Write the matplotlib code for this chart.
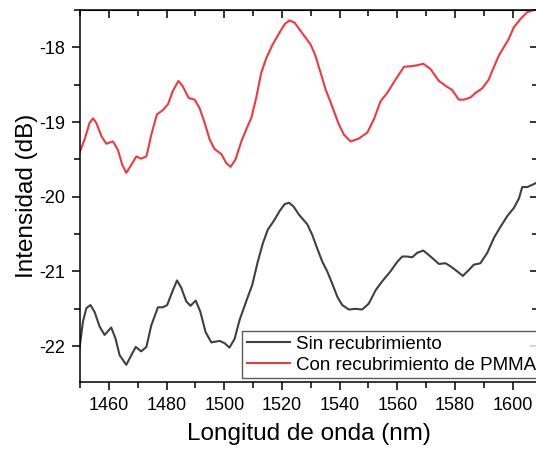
import numpy as np
from matplotlib import pyplot as plt
from matplotlib.ticker import MultipleLocator

plt.rcParams['font.family'] = ['Liberation Sans', 'DejaVu Sans']
plt.rcParams['axes.unicode_minus'] = False

# Con recubrimiento de PMMA (red)
wl_pmma = [1449.8, 1451.6, 1453.3, 1454.5, 1455.6, 1457.4, 1459.1, 1461.4, 1463.1, 1464.6,
           1466.0, 1467.8, 1469.5, 1471.2, 1473.0, 1474.7, 1476.6, 1478.7, 1480.5, 1482.2,
           1484.1, 1485.6, 1487.7, 1489.7, 1491.4, 1493.2, 1494.9, 1496.6, 1499.0, 1500.7,
           1502.2, 1503.9, 1505.9, 1507.6, 1509.4, 1511.1, 1512.8, 1514.6, 1516.8, 1519.2,
           1520.9, 1522.6, 1524.4, 1526.1, 1527.8, 1529.9, 1531.6, 1533.4, 1535.1, 1537.4,
           1539.7, 1541.5, 1543.8, 1546.7, 1549.6, 1551.9, 1554.2, 1556.5, 1559.4, 1562.3,
           1565.2, 1566.9, 1569.0, 1571.5, 1574.4, 1577.3, 1579.0, 1581.3, 1583.1, 1585.4,
           1587.1, 1589.4, 1591.7, 1593.4, 1595.2, 1597.2, 1598.6, 1600.4, 1602.7, 1605.0,
           1607.3, 1609.0]
int_pmma = [-19.41, -19.23, -19.01, -18.95, -19.01, -19.19, -19.29, -19.26, -19.37, -19.57,
            -19.68, -19.57, -19.46, -19.49, -19.46, -19.17, -18.90, -18.84, -18.76, -18.58,
            -18.45, -18.52, -18.68, -18.70, -18.81, -19.01, -19.23, -19.36, -19.43, -19.55,
            -19.60, -19.50, -19.26, -19.10, -18.94, -18.67, -18.34, -18.14, -17.96, -17.80,
            -17.69, -17.64, -17.67, -17.76, -17.85, -17.96, -18.11, -18.34, -18.56, -18.79,
            -19.03, -19.17, -19.26, -19.22, -19.14, -18.96, -18.72, -18.61, -18.43, -18.26,
            -18.25, -18.24, -18.22, -18.29, -18.45, -18.53, -18.57, -18.70, -18.70, -18.67,
            -18.61, -18.55, -18.43, -18.27, -18.11, -17.98, -17.89, -17.73, -17.62, -17.53,
            -17.50, -17.48]

# Sin recubrimiento (black)
wl_sin = [1449.8, 1451.0, 1452.2, 1453.6, 1455.0, 1456.8, 1458.5, 1460.8, 1462.3, 1463.7,
          1466.0, 1467.8, 1469.3, 1471.2, 1473.0, 1474.7, 1477.0, 1478.7, 1480.2, 1482.0,
          1483.6, 1485.1, 1486.8, 1488.3, 1490.1, 1491.7, 1493.5, 1495.5, 1498.4, 1500.1,
          1501.8, 1503.6, 1505.3, 1507.6, 1509.7, 1511.6, 1513.4, 1515.1, 1517.4, 1519.2,
          1520.9, 1522.4, 1524.0, 1525.9, 1528.8, 1530.5, 1532.2, 1534.0, 1535.7, 1537.4,
          1539.2, 1540.9, 1543.2, 1545.5, 1547.8, 1550.1, 1552.5, 1554.8, 1557.6, 1560.0,
          1561.7, 1563.4, 1565.2, 1566.9, 1569.0, 1570.9, 1572.7, 1574.4, 1576.7, 1578.4,
          1580.8, 1582.7, 1584.8, 1586.5, 1588.8, 1591.2, 1593.5, 1595.8, 1598.1, 1600.4,
          1602.2, 1603.3, 1605.1, 1606.8, 1609.0]
int_sin = [-22.03, -21.67, -21.49, -21.45, -21.54, -21.74, -21.85, -21.75, -21.90, -22.12,
           -22.25, -22.12, -22.01, -22.07, -22.01, -21.72, -21.48, -21.48, -21.45, -21.27,
           -21.12, -21.22, -21.40, -21.46, -21.39, -21.54, -21.81, -21.95, -21.93, -21.96,
           -22.02, -21.90, -21.65, -21.40, -21.18, -20.87, -20.62, -20.44, -20.31, -20.19,
           -20.10, -20.08, -20.13, -20.24, -20.37, -20.51, -20.69, -20.87, -21.00, -21.16,
           -21.34, -21.45, -21.51, -21.50, -21.51, -21.43, -21.25, -21.13, -21.00, -20.87,
           -20.80, -20.80, -20.81, -20.75, -20.72, -20.78, -20.84, -20.90, -20.89, -20.93,
           -21.00, -21.06, -20.98, -20.91, -20.89, -20.75, -20.55, -20.40, -20.26, -20.15,
           -20.02, -19.87, -19.87, -19.84, -19.80]

fig = plt.figure(figsize=(5.36, 4.53), dpi=100)
ax = fig.add_axes([79.5/536, 71/453, 458/536, 372/453])

ax.plot(wl_sin, int_sin, color='#404040', lw=1.5, label='Sin recubrimiento')
ax.plot(wl_pmma, int_pmma, color='#ee3a3f', lw=1.5, label='Con recubrimiento de PMMA')

ax.set_xlim(1449.8, 1608.6)
ax.set_ylim(-22.48, -17.5)
ax.xaxis.set_major_locator(MultipleLocator(20))
ax.xaxis.set_minor_locator(MultipleLocator(10))
ax.yaxis.set_major_locator(MultipleLocator(1))
ax.yaxis.set_minor_locator(MultipleLocator(0.5))

ax.tick_params(which='both', direction='out', labelsize=13, width=1.1, pad=4.5)
ax.tick_params(which='major', length=6)
ax.tick_params(which='minor', length=4)
for spine in ax.spines.values():
    spine.set_linewidth(1.1)

# mirrored ticks on top and right, pointing inward
top = ax.secondary_xaxis('top')
top.xaxis.set_major_locator(MultipleLocator(20))
top.xaxis.set_minor_locator(MultipleLocator(10))
top.tick_params(which='both', direction='in', labeltop=False, width=1.1)
top.tick_params(which='major', length=6)
top.tick_params(which='minor', length=4)
right = ax.secondary_yaxis('right')
right.yaxis.set_major_locator(MultipleLocator(1))
right.yaxis.set_minor_locator(MultipleLocator(0.5))
right.tick_params(which='both', direction='in', labelright=False, width=1.1)
right.tick_params(which='major', length=6)
right.tick_params(which='minor', length=4)

ax.set_xlabel('Longitud de onda (nm)', fontsize=17.5, labelpad=7)
ax.set_ylabel('Intensidad (dB)', fontsize=17.5, labelpad=1)

leg = ax.legend(loc='lower right', bbox_to_anchor=(1.016, 0.0), fontsize=13.5, frameon=True,
                fancybox=False, edgecolor='#333333', handlelength=2.3, borderpad=0.25,
                labelspacing=0.2, handletextpad=0.35, borderaxespad=0.2)
leg.get_frame().set_linewidth(1)

plt.savefig('out.png', dpi=100)
